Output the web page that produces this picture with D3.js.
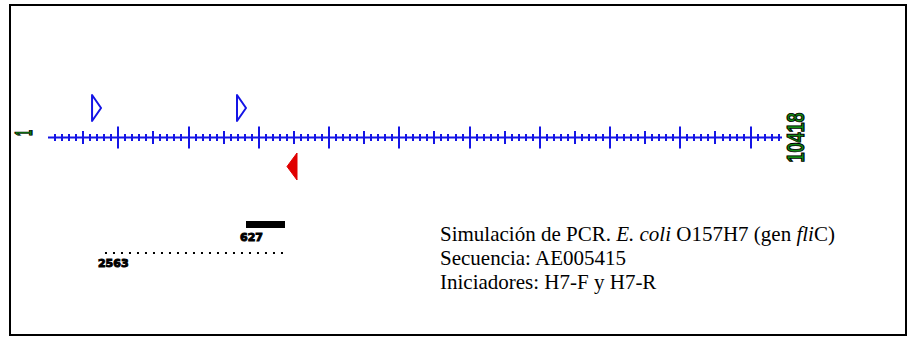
<!DOCTYPE html>
<html>
<head>
<meta charset="utf-8">
<script src="https://cdn.jsdelivr.net/npm/d3@7"></script>
<style>
  html, body { margin: 0; padding: 0; background: #fff; }
  svg { display: block; }
</style>
</head>
<body>
<div id="chart"></div>
<script>
// sequence length (bp) and axis ticks
const seqLength = 10418;
const minorStep = 100;
const mediumStep = 500;
const majorStep = 1000;
const endLabels = ['1', '10418'];

// primers: position in bp (5' end drawn), strand
const primerNames = ['H7-F', 'H7-F', 'H7-R'];
const primerPos = [627, 2690, 3544];
const primerStrand = ['+', '+', '-'];

// predicted products: start, end (bp), size label, style
const productStart = [2818, 811];
const productEnd = [3373, 3373];
const productSize = ['627', '2563'];
const productSolid = [true, false];

const captionLines = [
  [['Simulación de PCR. ', 'normal'], ['E. coli', 'italic'], [' O157H7 (gen ', 'normal'], ['fli', 'italic'], ['C)', 'normal']],
  [['Secuencia: AE005415', 'normal']],
  [['Iniciadores: H7-F y H7-R', 'normal']]
];

const width = 916;
const height = 337;
const axisY = 137.5;

const svg = d3.select('#chart').append('svg')
  .attr('width', width)
  .attr('height', height)
  .attr('viewBox', '0 0 ' + width + ' ' + height);

// frame
svg.append('rect')
  .attr('x', 10).attr('y', 5)
  .attr('width', 896).attr('height', 330)
  .attr('fill', 'none')
  .attr('stroke', '#000')
  .attr('stroke-width', 2);

const x = d3.scaleLinear()
  .domain([0, seqLength])
  .range([48, 780]);

const blue = '#1414e6';

// sequence ruler
const g = svg.append('g');
g.append('line')
  .attr('x1', x(0)).attr('x2', x(seqLength) + 2)
  .attr('y1', axisY).attr('y2', axisY)
  .attr('stroke', blue)
  .attr('stroke-width', 2);

const ticks = d3.range(minorStep, seqLength, minorStep);
const tickHalf = d => d % majorStep === 0 ? 11 : d % mediumStep === 0 ? 6.5 : 3.5;
g.selectAll('line.tick')
  .data(ticks)
  .enter()
  .append('line')
  .attr('class', 'tick')
  .attr('x1', d => Math.round(x(d)))
  .attr('x2', d => Math.round(x(d)))
  .attr('y1', d => axisY - tickHalf(d))
  .attr('y2', d => axisY + tickHalf(d))
  .attr('stroke', blue)
  .attr('stroke-width', 2);

// end labels, rotated and stretched like the original bitmap font
const endX = [24, 796];
const endY = [133, 137.5];
const endScale = ['scale(0.6,1.35)', 'scale(1,1.35)'];
svg.selectAll('text.endlabel')
  .data(endLabels)
  .enter()
  .append('text')
  .attr('class', 'endlabel')
  .attr('transform', (d, i) => 'translate(' + endX[i] + ',' + endY[i] + ') rotate(-90) ' + endScale[i])
  .attr('text-anchor', 'middle')
  .attr('dominant-baseline', 'central')
  .attr('font-family', 'Liberation Sans, Arial, sans-serif')
  .attr('font-weight', 'bold')
  .attr('font-size', 18)
  .attr('fill', '#118a11')
  .attr('stroke', '#000')
  .attr('stroke-width', 0.8)
  .text(d => d);

// primers
const primers = primerPos.map((p, i) => ({name: primerNames[i], pos: p, strand: primerStrand[i]}));
svg.selectAll('path.primer')
  .data(primers)
  .enter()
  .append('path')
  .attr('class', 'primer')
  .attr('d', d => {
    const px = x(d.pos);
    if (d.strand === '+') {
      return 'M' + px + ',95 L' + px + ',121 L' + (px + 9) + ',108 Z';
    }
    return 'M' + px + ',153 L' + px + ',180 L' + (px - 10) + ',166.5 Z';
  })
  .attr('fill', d => d.strand === '+' ? 'none' : '#e00000')
  .attr('stroke', d => d.strand === '+' ? blue : '#e00000')
  .attr('stroke-width', d => d.strand === '+' ? 2 : 1)
  .attr('stroke-linejoin', 'round');

// products
const products = productStart.map((s, i) => ({start: s, end: productEnd[i], size: productSize[i], solid: productSolid[i]}));
const productY = [224.5, 253];
const pg = svg.selectAll('g.product')
  .data(products)
  .enter()
  .append('g')
  .attr('class', 'product');

pg.append('line')
  .attr('x1', d => x(d.start))
  .attr('x2', d => x(d.end))
  .attr('y1', (d, i) => productY[i])
  .attr('y2', (d, i) => productY[i])
  .attr('stroke', '#000')
  .attr('stroke-width', d => d.solid ? 7 : 2)
  .attr('stroke-dasharray', d => d.solid ? null : '2,6');

pg.append('text')
  .attr('x', d => x(d.start) - (d.solid ? 6 : 7))
  .attr('y', (d, i) => productY[i] + (d.solid ? 16 : 13.5))
  .attr('font-family', 'DejaVu Sans, sans-serif')
  .attr('font-weight', 'bold')
  .attr('font-size', 11)
  .attr('fill', '#000')
  .attr('stroke', '#000')
  .attr('stroke-width', 1)
  .text(d => d.size);

// caption
const caption = svg.append('text')
  .attr('font-family', 'Liberation Serif, Times New Roman, serif')
  .attr('font-size', 21)
  .attr('fill', '#000');

captionLines.forEach((parts, i) => {
  parts.forEach(([t, style], j) => {
    const span = caption.append('tspan')
      .attr('font-style', style)
      .text(t);
    if (j === 0) span.attr('x', 440).attr('y', 241 + i * 24);
  });
});
</script>
</body>
</html>
